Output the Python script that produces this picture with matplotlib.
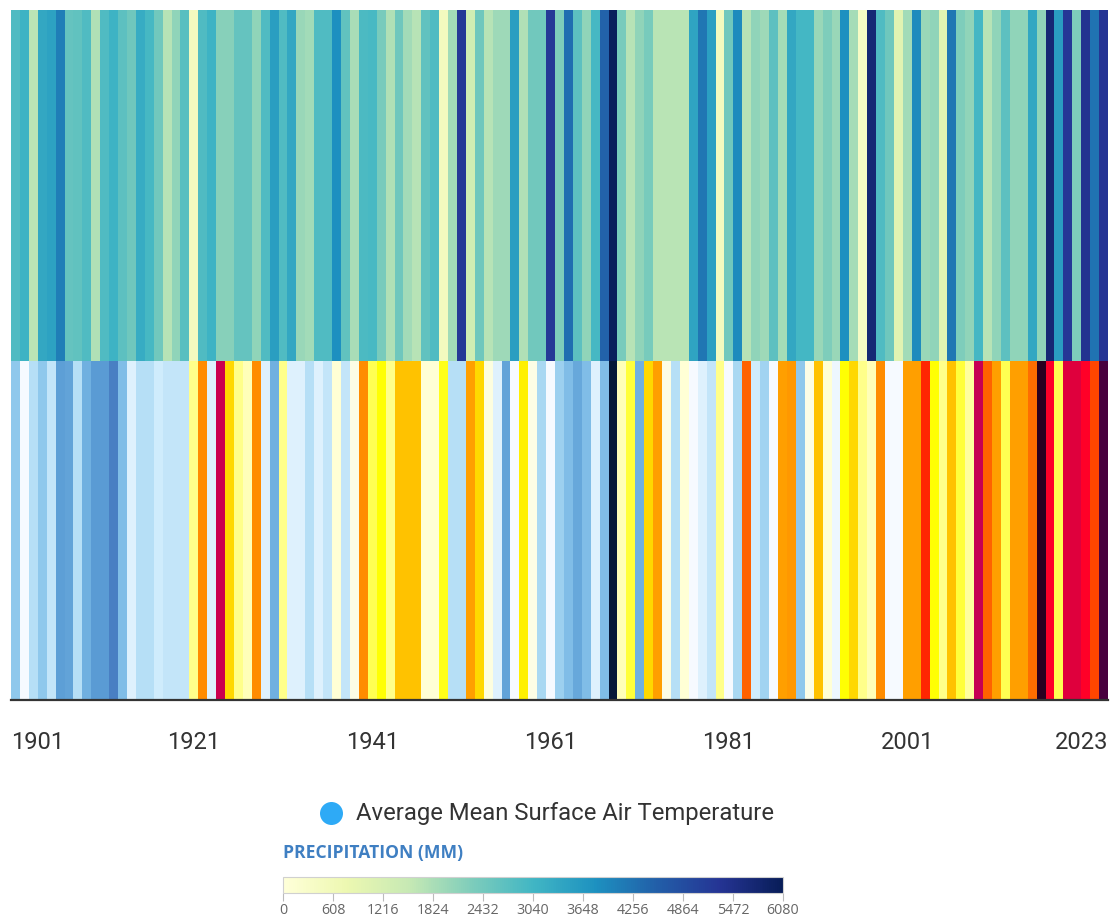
import numpy as np
import matplotlib
matplotlib.use("Agg")
import matplotlib.pyplot as plt
from matplotlib.colors import LinearSegmentedColormap, Normalize
from matplotlib.cm import ScalarMappable
from matplotlib.patches import Circle

# ---------------- data ----------------
years = np.arange(1901, 2024)

precipitation_mm = [
    2860, 3100, 1650, 3340, 3450, 4070, 2610, 2650, 2860, 1770,
    2860, 3100, 2700, 2490, 3250, 2980, 2450, 1700, 2100, 2750,
    500, 2860, 3100, 2190, 2190, 2610, 2610, 2100, 2860, 3530,
    2860, 3340, 2000, 1900, 2860, 2860, 3800, 2650, 1850, 2900,
    2950, 2370, 1770, 2490, 1900, 1700, 2650, 2860, 500, 1900,
    5230, 1350, 2490, 1700, 1950, 1950, 3530, 1770, 2450, 2450,
    5230, 2300, 4320, 2700, 2100, 2980, 4500, 6020, 2370, 1700,
    2100, 2370, 1680, 1680, 1680, 1680, 3400, 4200, 3500, 500,
    2450, 3890, 1700, 2100, 1950, 2700, 1880, 3340, 3000, 3000,
    2000, 2280, 2000, 3800, 1880, 400, 5720, 2860, 2490, 1000,
    1900, 3890, 2000, 2100, 1000, 4200, 2280, 2100, 3000, 1700,
    2100, 2700, 2100, 2100, 3340, 2100, 5720, 3530, 5230, 2280,
    5350, 4250, 5300,
]

temperature_c = [
    24.50, 24.80, 24.62, 24.50, 24.66, 24.32, 24.34, 24.62, 24.40, 24.30,
    24.30, 24.20, 24.46, 24.74, 24.62, 24.62, 24.70, 24.66, 24.66, 24.66,
    25.00, 25.34, 24.74, 25.76, 25.20, 25.00, 24.94, 25.34, 24.74, 24.40,
    25.00, 24.74, 24.74, 24.62, 24.74, 24.66, 24.90, 24.66, 24.86, 25.34,
    25.04, 25.10, 25.00, 25.24, 25.24, 25.24, 24.90, 24.90, 25.08, 24.62,
    24.62, 25.30, 25.20, 24.88, 24.74, 24.34, 24.80, 25.14, 24.86, 24.58,
    24.80, 24.54, 24.46, 24.36, 24.46, 24.74, 24.46, 24.00, 24.94, 25.06,
    24.40, 25.20, 25.30, 24.86, 24.62, 24.90, 24.80, 24.74, 24.66, 25.00,
    24.80, 24.58, 25.42, 24.70, 24.56, 24.80, 25.30, 25.32, 24.50, 24.86,
    25.24, 24.90, 24.78, 25.10, 25.20, 25.00, 24.94, 25.34, 24.80, 24.80,
    25.30, 25.30, 25.50, 25.10, 25.00, 25.24, 25.06, 24.98, 25.78, 25.42,
    25.30, 25.04, 25.30, 25.30, 25.40, 26.00, 25.60, 25.04, 25.70, 25.70,
    25.60, 25.46, 25.90,
]

year_tick_labels = ["1901", "1921", "1941", "1961", "1981", "2001", "2023"]
precip_ticks = [0, 608, 1216, 1824, 2432, 3040, 3648, 4256, 4864, 5472, 6080]
legend_label = "Average Mean Surface Air Temperature"
colorbar_title = "PRECIPITATION (MM)"

# ---------------- styles ----------------
W, H = 1113, 921
fig = plt.figure(figsize=(W / 100, H / 100), dpi=100)
fig.patch.set_facecolor("white")

temp_cmap = LinearSegmentedColormap.from_list("temp", [
    (0.00, "#061838"), (0.06, "#3a6cb8"), (0.10, "#4a80c4"), (0.15, "#5a9cd4"),
    (0.20, "#70b0e0"), (0.25, "#8ec8ec"), (0.30, "#b0dcf4"), (0.35, "#d0ecfc"),
    (0.40, "#f6faff"), (0.45, "#ffffd6"), (0.50, "#ffff90"), (0.55, "#ffff00"),
    (0.60, "#ffd800"), (0.65, "#ffa000"), (0.70, "#ff7000"), (0.75, "#ff2800"),
    (0.80, "#ff0028"), (0.85, "#e0003c"), (0.90, "#c0005a"), (0.95, "#4a0040"),
    (1.00, "#2a0020"),
])
temp_norm = Normalize(vmin=24.0, vmax=26.0)
precip_cmap = plt.get_cmap("YlGnBu")
precip_norm = Normalize(vmin=0, vmax=6080)

ax = fig.add_axes([11 / W, (H - 700) / H, 1097 / W, 690 / H])
x_edges = np.append(years - 0.5, years[-1] + 0.5)
split = 339 / 690
ax.pcolormesh(x_edges, [split, 1.0], np.array(precipitation_mm)[None, :],
              cmap=precip_cmap, norm=precip_norm, shading="flat", linewidth=0,
              antialiased=False)
ax.pcolormesh(x_edges, [0.0, split], np.array(temperature_c)[None, :],
              cmap=temp_cmap, norm=temp_norm, shading="flat", linewidth=0,
              antialiased=False)
ax.set_xlim(x_edges[0], x_edges[-1])
ax.set_ylim(0, 1)
ax.set_yticks([])
for s in ["top", "left", "right"]:
    ax.spines[s].set_visible(False)
ax.spines["bottom"].set_color("#333333")
ax.spines["bottom"].set_linewidth(1.6)
ax.spines["bottom"].set_zorder(5)

tick_pos = [x_edges[0], 1921, 1941, 1961, 1981, 2001, x_edges[-1]]
ax.set_xticks(tick_pos)
ax.set_xticklabels(year_tick_labels, fontfamily="Roboto", fontsize=17, color="#333333")
ax.tick_params(axis="x", length=0, pad=22)
lbls = ax.get_xticklabels()
lbls[0].set_ha("left")
lbls[-1].set_ha("right")

# legend item (round marker in its own equal-aspect axes)
lax = fig.add_axes([320 / W, (H - 825) / H, 23 / W, 23 / H])
lax.set_xlim(-1, 1); lax.set_ylim(-1, 1); lax.set_aspect("equal")
lax.axis("off")
lax.add_patch(Circle((0, 0), 1.0, facecolor="#2eaaf6", edgecolor="none"))
fig.text(356 / W, (H - 813.5) / H, legend_label, fontfamily="Roboto", fontsize=17.2,
         color="#333333", ha="left", va="center")

# colorbar
fig.text(283 / W, (H - 853) / H, colorbar_title, fontfamily="Open Sans",
         fontweight="bold", fontsize=12.6, color="#3f7fc2", ha="left", va="center")
cax = fig.add_axes([283 / W, (H - 893) / H, 500 / W, 16 / H])
cb = fig.colorbar(ScalarMappable(norm=precip_norm, cmap=precip_cmap), cax=cax,
                  orientation="horizontal", ticks=precip_ticks)
cb.outline.set_edgecolor("#d0d0d0")
cb.outline.set_linewidth(0.8)
cax.tick_params(axis="x", length=6, width=0.8, color="#bbbbbb", pad=1,
                labelsize=10.3, labelcolor="#666666")
for t in cax.get_xticklabels():
    t.set_fontfamily("Open Sans")

fig.savefig("out.png", dpi=100, facecolor="white")
